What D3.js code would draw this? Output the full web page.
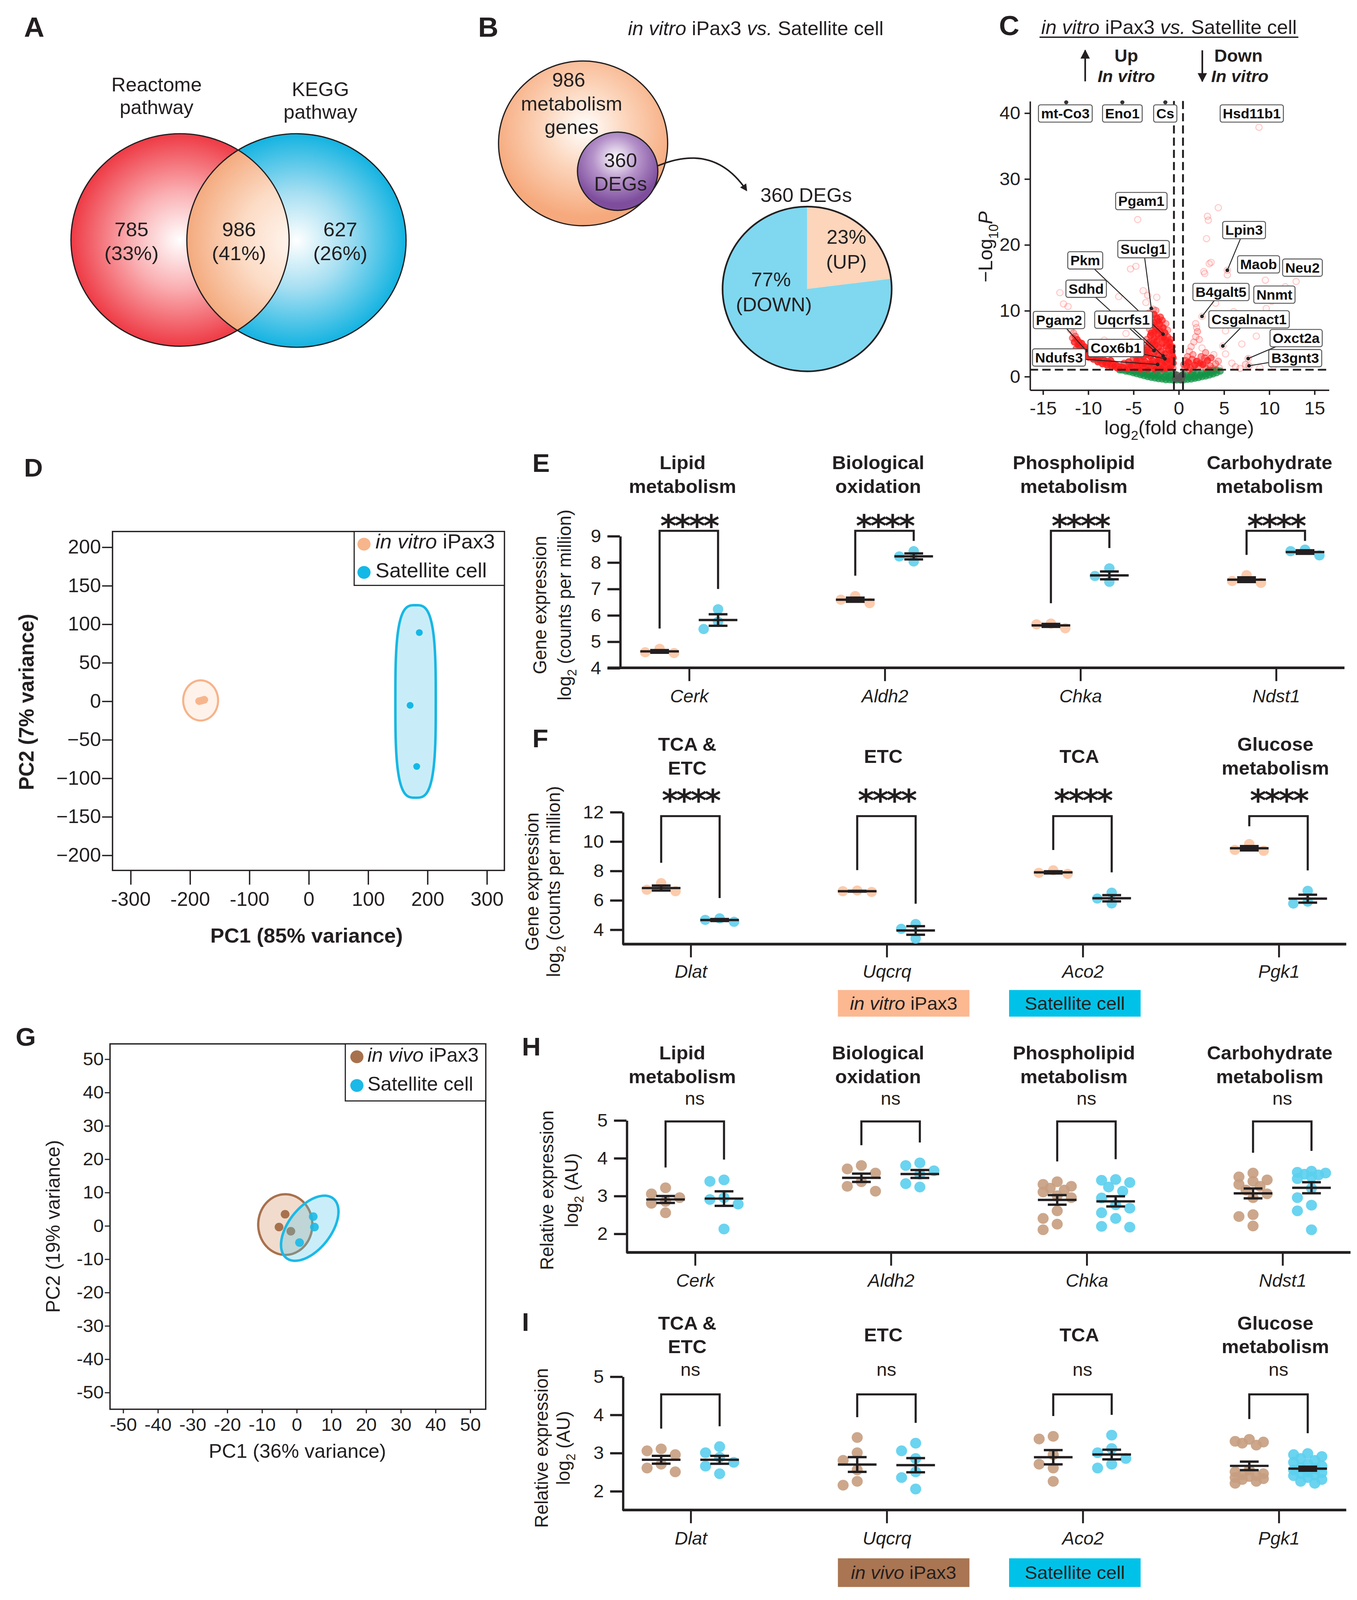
<!DOCTYPE html>
<html>
<head>
<meta charset="utf-8">
<script src="https://cdn.jsdelivr.net/npm/d3@7"></script>
<style>
  html, body { margin: 0; padding: 0; width: 100%; height: 100%; overflow: hidden; background: #fff; }
  svg { display: block; font-family: "Liberation Sans", Arial, Helvetica, sans-serif; }
</style>
</head>
<body>
<script>
// ---------------- data ----------------
// A  Venn
var vennSetNames = [["Reactome", "pathway"], ["KEGG", "pathway"]];
var vennCounts = [785, 986, 627];
var vennPercents = [33, 41, 26];

// B  metabolism genes / DEGs
var metabolismGenes = 986;
var degTotal = 360;
var degLabels = ["UP", "DOWN"];
var degPercents = [23, 77];

// C  volcano  [log2 fold change, -log10 P]
var volcanoSig = [
  [-11.9,7.0],[-11.6,6.6],[-11.4,6.1],[-11.7,5.8],[-11.2,5.6],[-11.0,5.2],[-10.7,5.0],[-10.9,4.6],[-10.4,4.5],[-10.2,4.1],
  [-10.0,3.8],[-9.7,3.9],[-9.6,3.4],[-9.3,3.3],[-9.0,3.0],[-8.8,2.7],[-8.6,3.1],[-8.3,2.5],[-8.0,2.3],[-7.7,2.1],
  [-7.5,2.4],[-7.2,1.9],[-6.9,1.7],[-6.6,1.5],[-6.3,1.4],[-6.0,1.3],[-5.7,1.2],[-10.5,3.2],[-9.9,2.9],[-9.4,2.6],
  [-8.9,2.2],[-8.4,1.9],[-7.9,1.7],[-7.4,1.5],[-6.8,1.3],[-10.9,3.6],[-11.3,4.2],
  [-11.5,5.2],[-11.1,4.8],[-10.6,4.2],[-10.1,3.5],[-9.2,2.9],[-8.7,2.4],[-8.1,2.0],[-7.6,1.8],[-7.1,1.6],[-6.5,1.2],
  [-9.8,3.1],[-10.3,3.7],
  [-5.2,1.3],[-4.8,1.2],[-4.4,1.4],[-4.0,1.2],[-3.6,1.5],[-3.2,1.3],[-2.8,1.6],[-2.4,1.4],[-2.0,1.8],[-1.6,1.5],
  [-1.2,1.9],[-0.8,1.6],[-0.6,1.2],[-5.0,1.8],[-4.5,2.0],[-4.1,1.7],[-3.7,2.2],[-3.3,1.9],[-2.9,2.4],[-2.5,2.1],
  [-2.1,2.6],[-1.7,2.3],[-1.3,2.8],[-0.9,2.5],[-0.7,3.2],
  [-4.3,2.6],[-3.9,2.9],[-3.5,3.3],[-3.1,3.0],[-2.7,3.6],[-2.3,3.2],[-1.9,3.8],[-1.5,3.4],[-1.1,4.0],[-0.8,3.7],
  [-3.8,4.0],[-3.4,4.5],[-3.0,4.2],[-2.6,4.8],[-2.2,4.4],[-1.8,5.0],[-1.4,4.6],[-1.0,5.2],[-0.7,4.5],
  [-3.5,5.6],[-3.1,6.2],[-2.7,5.8],[-2.3,6.4],[-1.9,6.0],[-1.5,6.6],[-1.2,6.0],[-0.9,5.6],
  [-3.2,7.2],[-2.9,7.8],[-2.5,7.3],[-2.1,7.9],[-1.7,7.4],[-1.4,8.0],
  [-3.0,8.8],[-2.7,9.4],[-2.4,8.9],[-2.0,9.0],[-2.8,10.2],[-2.5,10.0],[-3.3,9.6],
  [-5.5,2.2],[-5.0,2.6],[-4.7,3.1],[-4.4,3.6],[-6.0,2.0],
  [-2.2,1.2],[-1.8,1.1],[-1.4,1.2],[-1.0,1.3],[-0.6,2.0],[-0.6,2.8],[-0.7,3.8],[-1.0,4.6],[-1.3,5.4],[-1.6,5.8],
  [-2.0,6.9],[-2.4,5.4],[-2.8,5.0],[-3.2,5.2],[-3.6,4.0],[-4.0,3.3],[-2.6,6.8],[-1.8,8.5],[-2.2,8.4],[-2.6,8.2],
  [-3.0,6.6],[-1.2,7.0],[-3.4,3.8],[-4.6,2.4],[-5.3,1.6],[-4.2,1.1],[-3.4,1.1],[-2.6,1.1],[-1.9,1.3],[-1.5,2.0],
  [-1.1,2.4],[-2.3,2.3],[-3.0,2.0],[-3.8,1.8],
  [-4.5,23.8],[-5.3,16.3],[-4.7,16.7],[-3.9,13.0],[-3.4,12.3],[-6.6,12.1],[-12.7,11.0],[-13.1,12.7],[-5.8,6.5],
  [-5.2,5.3],[-8.2,5.5],[-3.6,11.2],[-2.4,12.0],[-12.2,10.6],
  [0.7,1.2],[0.9,1.6],[1.1,2.1],[1.3,1.3],[1.5,2.6],[1.0,3.0],[1.8,1.7],[2.0,2.3],[2.2,1.4],[2.5,3.0],
  [2.7,1.8],[3.0,1.3],[3.2,2.4],[3.5,1.6],[3.8,1.2],[4.1,1.9],[4.5,1.3],[1.2,3.8],[1.4,4.5],[1.7,5.2],
  [1.9,6.0],[2.1,6.8],[2.0,7.4],[1.9,8.0],[2.6,4.3],[2.3,5.6],[3.0,3.6],[3.6,2.8],[4.4,2.3],[5.2,3.4],
  [5.9,2.0],[6.3,1.45],[7.0,4.9],[7.4,1.8],[5.2,6.9],[8.6,6.1],[6.1,9.8],[4.1,11.1],[9.7,10.3],[2.8,15.9],
  [3.6,17.3],[3.1,20.9],[3.3,23.7],[3.2,24.3],[4.4,25.6],[5.4,15.4],[9.6,14.6],[13.0,14.4],[8.9,37.8],[2.6,9.1],
  [5.4,16.1],[4.9,4.6],[7.7,2.7],[7.8,1.6],[10.5,1.6],[11.5,2.2],[9.0,1.3],[6.8,1.2],[3.4,17.1],[2.9,15.6],
  [0.8,2.4],[1.6,3.3],[2.4,2.0],[0.6,1.8],[1.2,1.0],[2.9,2.8],[3.9,3.3],[10.3,11.4],[11.8,13.6],[8.2,8.9],[5.8,12.5]
];
var volcanoNs = [
  [-6.2,0.95],[-5.8,0.8],[-5.4,0.7],[-5.0,0.55],[-4.6,0.4],[-4.2,0.25],[-3.8,0.1],[-3.4,-0.05],[-3.0,-0.15],[-2.6,-0.25],
  [-2.2,-0.35],[-1.8,-0.4],[-1.4,-0.5],[-1.0,-0.5],[-0.6,-0.55],[-0.2,-0.55],[0.2,-0.55],[0.6,-0.5],[1.0,-0.45],[1.4,-0.4],
  [1.8,-0.3],[2.2,-0.2],[2.6,-0.05],[3.0,0.05],[3.4,0.2],[3.8,0.35],[4.2,0.55],[4.6,0.8],
  [-5.6,0.95],[-5.0,0.9],[-4.4,0.85],[-3.8,0.6],[-3.2,0.5],[-2.6,0.4],[-2.0,0.3],[-1.4,0.2],[-0.9,0.1],[-0.5,0.4],
  [0.5,0.3],[0.9,0.1],[1.4,0.25],[2.0,0.4],[2.6,0.5],[3.2,0.7],[3.8,0.9],[4.2,0.95],
  [-4.8,0.7],[-4.0,0.45],[-3.4,0.3],[-2.8,0.1],[-2.2,0.05],[-1.6,-0.1],[-1.0,-0.2],[1.2,-0.1],[1.8,0.0],[2.4,0.2],
  [3.0,0.35],[3.6,0.55],[-6.5,0.98],[-2.4,0.7],[-1.2,0.6],[1.6,0.7],[3.4,0.9]
];
var volcanoNone = [[-0.3,-0.4],[0.1,-0.2],[0.4,0.1],[-0.2,0.2],[0.3,-0.5]];
var volcanoCapped = [[-12.4,41.6],[-6.2,41.6],[-1.45,41.6]];
var volcanoGenes = ["mt-Co3","Eno1","Cs","Hsd11b1","Pgam1","Lpin3","Suclg1","Pkm","Maob","Neu2",
  "Sdhd","B4galt5","Nnmt","Pgam2","Uqcrfs1","Csgalnact1","Oxct2a","Cox6b1","Ndufs3","B3gnt3"];
var volcanoGeneFC = [-12.4,-6.2,-1.45,8.9,-4.5,5.4,-3.0,-1.7,9.6,13.0,-2.7,2.6,10.3,-10.2,-1.7,4.9,7.7,-1.5,-2.3,7.8];
var volcanoGeneP = [41.6,41.6,41.6,37.8,23.8,16.1,10.3,6.4,14.6,14.4,3.9,9.1,11.4,3.9,3.1,4.6,2.7,2.65,1.8,1.6];

// D  PCA in vitro iPax3 vs satellite
var pcaDGroups = ["in vitro iPax3", "Satellite cell"];
var pcaDPC1 = [[-183.9, -175.6, -180.0], [186.7, 171.2, 182.3]];
var pcaDPC2 = [[-0.2, 1.5, 0.5], [88.8, -5.7, -85.0]];
var pcaDEllipse = [[-181.6, 0.7, 29.4, 26.1, 0], [180.4, -0.6, 34, 125, 0]]; // cx, cy, a, b, angle

// G  PCA in vivo iPax3 vs satellite
var pcaGGroups = ["in vivo iPax3", "Satellite cell"];
var pcaGPC1 = [[-3.25, -5.0, -1.6], [4.85, 5.2, 0.9]];
var pcaGPC2 = [[3.4, -0.45, -1.7], [2.7, -0.45, -5.1]];
var pcaGEllipse = [[-3.2, 0.3, 7.8, 9.1, 0], [3.85, -0.8, 11.2, 6.2, 54]];

// E-I  gene expression
var genesEH = ["Cerk", "Aldh2", "Chka", "Ndst1"];
var titlesEH = [["Lipid", "metabolism"], ["Biological", "oxidation"], ["Phospholipid", "metabolism"], ["Carbohydrate", "metabolism"]];
var genesFI = ["Dlat", "Uqcrq", "Aco2", "Pgk1"];
var titlesFI = [["TCA &", "ETC"], ["ETC"], ["TCA"], ["Glucose", "metabolism"]];
var eInVitro = [[4.59,4.72,4.56],[6.45,6.72,6.58],[5.50,5.68,5.65],[7.22,7.51,7.29]];
var eSatellite = [[6.22,5.47,5.75],[8.03,8.42,8.22],[7.77,7.26,7.48],[8.26,8.48,8.42]];
var fInVitro = [[6.6,7.15,6.7],[6.55,6.65,6.6],[7.78,8.02,7.85],[9.35,9.81,9.41]];
var fSatellite = [[4.52,4.75,4.65],[4.37,3.38,4.04],[6.5,5.77,6.1],[6.63,5.76,5.89]];
var hInVivo = [[3.21,3.05,2.95,2.85,2.80,2.55],[3.80,3.71,3.60,3.37,3.25,3.12],
  [3.37,3.3,3.25,3.2,3.15,3.1,3.0,2.95,2.6,2.4,2.25,2.1],[3.6,3.5,3.42,3.38,3.3,3.25,3.15,3.05,2.95,2.5,2.45,2.2]];
var hSatellite = [[3.42,3.38,2.95,2.9,2.78,2.12],[3.87,3.80,3.66,3.57,3.32,3.23],
  [3.43,3.41,3.35,3.23,3.12,2.94,2.76,2.67,2.55,2.4,2.19,2.17],[3.65,3.62,3.6,3.57,3.55,3.5,3.45,3.2,2.95,2.75,2.6,2.1]];
var iInVivo = [[3.1,3.05,2.95,2.7,2.6,2.5],[3.4,3.0,2.8,2.55,2.25,2.15],[3.43,3.36,2.95,2.7,2.6,2.25],
  [3.35,3.3,3.28,3.25,3.2,2.55,2.5,2.45,2.42,2.4,2.38,2.35,2.32,2.3,2.25,2.2]];
var iSatellite = [[3.16,3.0,2.88,2.75,2.65,2.45],[3.25,3.05,2.85,2.5,2.35,2.05],[3.46,3.11,3.0,2.85,2.7,2.6],
  [2.98,2.95,2.9,2.85,2.8,2.75,2.7,2.65,2.6,2.58,2.55,2.5,2.48,2.45,2.42,2.4,2.35,2.3,2.25,2.2]];
var sigEF = ["****", "****", "****", "****"];
var sigHI = ["ns", "ns", "ns", "ns"];

// ---------------- drawing ----------------
var INK = "#231f20";
// fill whatever viewport we get so nothing is cut at the bottom
var svg = d3.select("body").append("svg")
  .attr("width", "100%").attr("height", "100%")
  .attr("viewBox", "0 0 1300 1573.5")
  .attr("preserveAspectRatio", "none");
svg.append("rect").attr("width", 1300).attr("height", 1573.5).attr("fill", "#fff");
var defs = svg.append("defs");

function txt(g, x, y, s, o) {
  o = o || {};
  var t = g.append("text").attr("x", x).attr("y", y).text(s)
    .attr("font-size", o.size || 18)
    .attr("text-anchor", o.anchor || "middle")
    .attr("fill", o.fill || INK);
  if (o.weight) t.attr("font-weight", o.weight);
  if (o.italic) t.attr("font-style", "italic");
  if (o.family) t.attr("font-family", o.family);
  return t;
}
// parts: [text, {italic, sub}]
function rich(g, x, y, parts, size, o) {
  o = o || {};
  var t = g.append("text").attr("x", x).attr("y", y)
    .attr("font-size", size).attr("text-anchor", o.anchor || "middle").attr("fill", INK);
  if (o.weight) t.attr("font-weight", o.weight);
  if (o.transform) t.attr("transform", o.transform);
  var shifted = false;
  parts.forEach(function (p) {
    var ts = t.append("tspan").text(p[0]);
    var f = p[1] || {};
    if (f.italic) ts.attr("font-style", "italic");
    if (f.sub) { ts.attr("font-size", size * 0.68).attr("dy", size * 0.3); shifted = true; }
    else if (shifted) { ts.attr("dy", -size * 0.3); shifted = false; }
  });
  return t;
}
function radial(id, cx, cy, r, stops) {
  var gr = defs.append("radialGradient").attr("id", id).attr("gradientUnits", "userSpaceOnUse")
    .attr("cx", cx).attr("cy", cy).attr("r", r);
  stops.forEach(function (s) { gr.append("stop").attr("offset", s[0]).attr("stop-color", s[1]); });
}
function styleAxis(sel, fs, sw) {
  sel.attr("font-family", null).attr("font-size", null);
  sel.selectAll("text").attr("font-size", fs).attr("fill", INK);
  sel.selectAll("line").attr("stroke", INK).attr("stroke-width", sw);
  sel.selectAll("path.domain").attr("stroke", INK).attr("stroke-width", sw);
}

// panel letters
[["A", 23, 36.3, 27], ["B", 458, 36.3, 27], ["C", 957, 34.5, 27], ["D", 23, 468.7, 25], ["E", 510, 464, 25],
 ["F", 510, 735, 25], ["G", 15, 1028.2, 25], ["H", 500, 1038, 25], ["I", 500, 1308.7, 25]].forEach(function (l) {
  txt(svg, l[1], l[2], l[0], { size: l[3], weight: "bold", anchor: "start" });
});

// ---------- A: Venn ----------
(function () {
  var g = svg.append("g");
  var cL = { x: 172.5, y: 236, r: 104.5 }, cR = { x: 284, y: 236.5, r: 105 };
  radial("gRed", cL.x, cL.y, cL.r, [[0, "#ffffff"], [0.45, "#fab0b3"], [1, "#ee3a45"]]);
  radial("gBlue", cR.x, cR.y, cR.r, [[0, "#ffffff"], [0.45, "#a6dff2"], [1, "#13b3e1"]]);
  radial("gPeach", cR.x, cR.y, cR.r, [[0, "#fff7f2"], [0.5, "#fcdcc6"], [1, "#f4aa7e"]]);
  defs.append("clipPath").attr("id", "clipL").append("circle").attr("cx", cL.x).attr("cy", cL.y).attr("r", cL.r);
  g.append("circle").attr("cx", cL.x).attr("cy", cL.y).attr("r", cL.r).attr("fill", "url(#gRed)");
  g.append("circle").attr("cx", cR.x).attr("cy", cR.y).attr("r", cR.r).attr("fill", "url(#gBlue)");
  g.append("circle").attr("cx", cR.x).attr("cy", cR.y).attr("r", cR.r).attr("fill", "url(#gPeach)").attr("clip-path", "url(#clipL)");
  [cL, cR].forEach(function (c) {
    g.append("circle").attr("cx", c.x).attr("cy", c.y).attr("r", c.r).attr("fill", "none").attr("stroke", INK).attr("stroke-width", 1.2);
  });
  var nameX = [150, 307], nameY = [90, 94.5];
  vennSetNames.forEach(function (n, i) {
    txt(g, nameX[i], nameY[i], n[0], { size: 19 });
    txt(g, nameX[i], nameY[i] + 22.3, n[1], { size: 19 });
  });
  var cx = [126, 229, 326];
  vennCounts.forEach(function (v, i) {
    txt(g, cx[i], 232.3, String(v), { size: 19.5 });
    txt(g, cx[i], 256, "(" + vennPercents[i] + "%)", { size: 19.5 });
  });
})();

// ---------- B: DEGs ----------
(function () {
  var g = svg.append("g");
  rich(g, 724, 34.4, [["in vitro", { italic: true }], [" iPax3 "], ["vs.", { italic: true }], [" Satellite cell"]], 19);
  radial("gOrange", 560, 126, 88, [[0, "#ffffff"], [0.45, "#fcd6bd"], [1, "#f6a97c"]]);
  radial("gPurple", 590, 156, 44, [[0, "#ffffff"], [0.5, "#b592c9"], [1, "#7e4e9d"]]);
  g.append("circle").attr("cx", 558.6).attr("cy", 141).attr("r", 81).attr("fill", "url(#gOrange)").attr("stroke", INK).attr("stroke-width", 1.2);
  g.append("circle").attr("cx", 591.7).attr("cy", 168.4).attr("r", 38.5).attr("fill", "url(#gPurple)").attr("stroke", INK).attr("stroke-width", 1.2);
  txt(g, 544.8, 85.4, String(metabolismGenes), { size: 19 });
  txt(g, 547.6, 108.8, "metabolism", { size: 19 });
  txt(g, 547.6, 131.6, "genes", { size: 19 });
  txt(g, 594.5, 164.4, String(degTotal), { size: 19 });
  txt(g, 594.5, 187.5, "DEGs", { size: 19 });

  defs.append("marker").attr("id", "headB").attr("viewBox", "0 0 10 10").attr("refX", 8).attr("refY", 5)
    .attr("markerWidth", 7).attr("markerHeight", 7).attr("markerUnits", "userSpaceOnUse").attr("orient", "auto")
    .append("path").attr("d", "M0,0 L10,5 L0,10 Z").attr("fill", INK);
  g.append("path").attr("d", "M630.3,163 Q684,140 715,187").attr("fill", "none").attr("stroke", INK)
    .attr("stroke-width", 1.5).attr("marker-end", "url(#headB)");

  txt(g, 772.3, 198.8, degTotal + " DEGs", { size: 19 });
  var pie = d3.pie().sort(null)(degPercents);
  var arc = d3.arc().innerRadius(0).outerRadius(81);
  var pg = g.append("g").attr("transform", "translate(773.2,284.2)");
  var pieColors = ["#fcd5bb", "#7fd8f0"];
  pg.selectAll("path").data(pie).enter().append("path").attr("d", arc)
    .attr("fill", function (d, i) { return pieColors[i]; });
  pg.append("circle").attr("r", 81).attr("fill", "none").attr("stroke", INK).attr("stroke-width", 1.6);
  var labPos = [[37.7, -44.3], [-34.5, -2.7]];
  degPercents.forEach(function (p, i) {
    txt(pg, labPos[i][0], labPos[i][1], p + "%", { size: 19 });
    txt(pg, labPos[i][0] + (i ? 2.7 : 0), labPos[i][1] + 24.5, "(" + degLabels[i] + ")", { size: 19 });
  });
})();

// ---------- C: volcano ----------
(function () {
  var g = svg.append("g");
  var x = d3.scaleLinear().domain([-16.43, 16.6]).range([986.5, 1272.9]);
  var y = d3.scaleLinear().domain([-2.04, 41.8]).range([383.3, 99.3]);

  rich(g, 1119.9, 33.6, [["in vitro", { italic: true }], [" iPax3  "], ["vs.", { italic: true }], [" Satellite cell"]], 19);
  g.append("line").attr("x1", 995.9).attr("x2", 1243.8).attr("y1", 36.6).attr("y2", 36.6).attr("stroke", INK).attr("stroke-width", 1.3);
  txt(g, 1079, 60.7, "Up", { size: 17, weight: "bold" });
  txt(g, 1079, 80.5, "In vitro", { size: 16.5, weight: "bold", italic: true });
  txt(g, 1186.4, 60.7, "Down", { size: 17, weight: "bold" });
  txt(g, 1187.8, 80.5, "In vitro", { size: 16.5, weight: "bold", italic: true });
  defs.append("marker").attr("id", "headC").attr("viewBox", "0 0 10 10").attr("refX", 9).attr("refY", 5)
    .attr("markerWidth", 9).attr("markerHeight", 9).attr("markerUnits", "userSpaceOnUse").attr("orient", "auto")
    .append("path").attr("d", "M0,0 L10,5 L0,10 Z").attr("fill", INK);
  g.append("line").attr("x1", 1039.6).attr("x2", 1039.6).attr("y1", 80).attr("y2", 49.5).attr("stroke", INK).attr("stroke-width", 1.6).attr("marker-end", "url(#headC)");
  g.append("line").attr("x1", 1151.8).attr("x2", 1151.8).attr("y1", 49.5).attr("y2", 80).attr("stroke", INK).attr("stroke-width", 1.6).attr("marker-end", "url(#headC)");

  // green / grey / red points (red opacity grows with local crowding to mimic overplotting)
  g.append("g").selectAll("circle").data(volcanoNs).enter().append("circle")
    .attr("cx", function (d) { return x(d[0]); }).attr("cy", function (d) { return y(d[1]); })
    .attr("r", 3.6).attr("fill", "#139447").attr("fill-opacity", 0.75);
  g.append("g").selectAll("circle").data(volcanoNone).enter().append("circle")
    .attr("cx", function (d) { return x(d[0]); }).attr("cy", function (d) { return y(d[1]); })
    .attr("r", 3.6).attr("fill", "#555").attr("fill-opacity", 0.85);
  var crowd = volcanoSig.map(function (d) {
    var px = x(d[0]), py = y(d[1]);
    return volcanoSig.filter(function (e) {
      var dx = x(e[0]) - px, dy = y(e[1]) - py;
      return dx * dx + dy * dy < 64;
    }).length - 1;
  });
  g.append("g").selectAll("circle").data(volcanoSig).enter().append("circle")
    .attr("cx", function (d) { return x(d[0]); }).attr("cy", function (d) { return y(d[1]); })
    .attr("r", 3.1).attr("fill", "#ff1a1a")
    .attr("fill-opacity", function (d, i) { return Math.min(0.85, 0.03 + 0.012 * crowd[i] * crowd[i]); })
    .attr("stroke", "#ff2a2a").attr("stroke-width", 0.9)
    .attr("stroke-opacity", function (d, i) { return Math.min(0.9, 0.25 + 0.008 * crowd[i] * crowd[i]); });
  g.append("g").selectAll("circle").data(volcanoCapped).enter().append("circle")
    .attr("cx", function (d) { return x(d[0]); }).attr("cy", function (d) { return y(d[1]); })
    .attr("r", 2).attr("fill", "#333");

  // cut-off lines
  [-0.5, 0.5].forEach(function (v) {
    g.append("line").attr("x1", x(v)).attr("x2", x(v)).attr("y1", 99.3).attr("y2", 383.3)
      .attr("stroke", INK).attr("stroke-width", 1.8).attr("stroke-dasharray", "8,4");
  });
  g.append("line").attr("x1", 986.5).attr("x2", 1272.9).attr("y1", y(1)).attr("y2", y(1))
    .attr("stroke", INK).attr("stroke-width", 1.8).attr("stroke-dasharray", "8,4");

  var ax = g.append("g").attr("transform", "translate(986.5,0)")
    .call(d3.axisLeft(y).tickValues([0, 10, 20, 30, 40]).tickSize(5).tickSizeOuter(0).tickPadding(4));
  styleAxis(ax, 18, 1.4);
  var bx = g.append("g").attr("transform", "translate(0,383.3)")
    .call(d3.axisBottom(x).tickValues([-15, -10, -5, 0, 5, 10, 15]).tickSize(5).tickSizeOuter(0).tickPadding(6.5)
      .tickFormat(function (d) { return String(d); }));
  styleAxis(bx, 18, 1.4);
  rich(g, 0, 0, [["\u2212Log"], ["10", { sub: true }], ["P", { italic: true }]], 19, { transform: "translate(950.5,242.7) rotate(-90)" });
  rich(g, 1129.7, 427, [["log"], ["2", { sub: true }], ["(fold change)"]], 19);

  // labels
  var labelAt = {
    "mt-Co3": [-12.5, 39.9], "Eno1": [-6.2, 39.9], "Cs": [-1.46, 39.9], "Hsd11b1": [8.1, 39.9], "Pgam1": [-4.1, 26.6],
    "Lpin3": [7.25, 22.2], "Suclg1": [-3.86, 19.3], "Pkm": [-10.3, 17.6], "Maob": [8.85, 17.0], "Neu2": [13.7, 16.5],
    "Sdhd": [-10.2, 13.3], "B4galt5": [4.7, 12.8], "Nnmt": [10.6, 12.4], "Pgam2": [-13.2, 8.55], "Uqcrfs1": [-6.07, 8.6],
    "Csgalnact1": [7.8, 8.65], "Oxct2a": [13.0, 5.8], "Cox6b1": [-6.9, 4.3], "Ndufs3": [-13.2, 2.86], "B3gnt3": [12.9, 2.76]
  };
  var lg = g.append("g");
  var segs = lg.append("g"), boxes = lg.append("g");
  volcanoGenes.forEach(function (gene, i) {
    var lx = x(labelAt[gene][0]), ly = y(labelAt[gene][1]);
    var px = x(volcanoGeneFC[i]), py = y(volcanoGeneP[i]);
    var b = boxes.append("g");
    var t = txt(b, lx, ly + 4.8, gene, { size: 13.5, weight: "bold", fill: "#111" });
    var w = t.node().getComputedTextLength() + 5, h = 17;
    b.insert("rect", "text").attr("x", lx - w / 2).attr("y", ly - h / 2).attr("width", w).attr("height", h)
      .attr("rx", 2).attr("fill", "#fff").attr("stroke", "#555").attr("stroke-width", 0.9);
    var dx = px - lx, dy = py - ly;
    var outX = Math.max(0, Math.abs(dx) - w / 2), outY = Math.max(0, Math.abs(dy) - h / 2);
    if (Math.sqrt(outX * outX + outY * outY) > 10) {
      var tt = Math.min(Math.abs(dx) > 0 ? (w / 2) / Math.abs(dx) : 99, Math.abs(dy) > 0 ? (h / 2) / Math.abs(dy) : 99);
      segs.append("line").attr("x1", lx + dx * tt).attr("y1", ly + dy * tt).attr("x2", px).attr("y2", py)
        .attr("stroke", "#222").attr("stroke-width", 0.9);
      segs.append("circle").attr("cx", px).attr("cy", py).attr("r", 1.8).attr("fill", "#222");
    }
  });
})();

// ---------- PCA helper ----------
function ellipsePath(e, xs, ys, n) {
  var th = e[4] * Math.PI / 180, pts = [];
  for (var k = 0; k < 144; k++) {
    var t = k / 144 * 2 * Math.PI, c = Math.cos(t), s = Math.sin(t);
    var u = e[2] * Math.sign(c) * Math.pow(Math.abs(c), 2 / n);
    var v = e[3] * Math.sign(s) * Math.pow(Math.abs(s), 2 / n);
    pts.push([xs(e[0] + u * Math.cos(th) - v * Math.sin(th)), ys(e[1] + u * Math.sin(th) + v * Math.cos(th))]);
  }
  return d3.line().curve(d3.curveLinearClosed)(pts);
}

// ---------- D: PCA ----------
(function () {
  var g = svg.append("g");
  var x = d3.scaleLinear().domain([-330, 330]).range([107.8, 483.2]);
  var y = d3.scaleLinear().domain([-220, 220]).range([856, 522.7]);
  var fills = ["#fef2ea", "#c9edf8"], strokes = ["#f7b38a", "#17b7e4"], dots = ["#f7b58c", "#14b8e6"];
  var shape = [2, 3.2];
  pcaDEllipse.forEach(function (e, i) {
    g.append("path").attr("d", ellipsePath(e, x, y, shape[i])).attr("fill", fills[i])
      .attr("stroke", strokes[i]).attr("stroke-width", i ? 2.4 : 2);
  });
  pcaDPC1.forEach(function (xs, i) {
    g.selectAll(null).data(xs).enter().append("circle")
      .attr("cx", function (d) { return x(d); }).attr("cy", function (d, j) { return y(pcaDPC2[i][j]); })
      .attr("r", i ? 3.3 : 3.8).attr("fill", dots[i]);
  });
  g.append("rect").attr("x", 107.8).attr("y", 522.7).attr("width", 375.4).attr("height", 333.3)
    .attr("fill", "none").attr("stroke", INK).attr("stroke-width", 1.3);
  var ay = g.append("g").attr("transform", "translate(107.8,0)")
    .call(d3.axisLeft(y).tickValues(d3.range(-200, 201, 50)).tickSize(10).tickSizeOuter(0).tickPadding(1).tickFormat(d3.format("d")));
  ay.select(".domain").remove();
  styleAxis(ay, 19, 1.3);
  var axb = g.append("g").attr("transform", "translate(0,856)")
    .call(d3.axisBottom(x).tickValues(d3.range(-300, 301, 100)).tickSize(14).tickSizeOuter(0).tickPadding(7.4)
      .tickFormat(function (d) { return String(d); }));
  axb.select(".domain").remove();
  styleAxis(axb, 19, 1.3);
  txt(g, 293.7, 927, "PC1 (85% variance)", { size: 20, weight: "bold" });
  txt(g, 0, 0, "PC2 (7% variance)", { size: 20, weight: "bold" }).attr("transform", "translate(32.1,690.4) rotate(-90)");
  g.append("rect").attr("x", 339.3).attr("y", 522.7).attr("width", 143.9).attr("height", 53)
    .attr("fill", "#fff").attr("stroke", INK).attr("stroke-width", 1.1);
  var ly = [[535.2, 539.4], [562.9, 567.7]];
  pcaDGroups.forEach(function (name, i) {
    g.append("circle").attr("cx", 348.7).attr("cy", ly[i][0]).attr("r", 6.3).attr("fill", dots[i]);
    var parts = i ? [[name]] : [["in vitro", { italic: true }], [" iPax3"]];
    rich(g, 359.7, ly[i][1], parts, 20, { anchor: "start" });
  });
})();

// ---------- G: PCA ----------
(function () {
  var g = svg.append("g");
  var x = d3.scaleLinear().domain([-53.7, 54.55]).range([105.4, 465.3]);
  var y = d3.scaleLinear().domain([-55.1, 54.5]).range([1385.9, 1026.6]);
  var dots = ["#a8714d", "#1bb9e7"];
  g.append("path").attr("d", ellipsePath(pcaGEllipse[0], x, y, 2)).attr("fill", "#f1dbcd")
    .attr("stroke", "#a8714d").attr("stroke-width", 2.2);
  g.selectAll(null).data(pcaGPC1[0]).enter().append("circle")
    .attr("cx", function (d) { return x(d); }).attr("cy", function (d, j) { return y(pcaGPC2[0][j]); })
    .attr("r", 4.2).attr("fill", dots[0]);
  g.append("path").attr("d", ellipsePath(pcaGEllipse[1], x, y, 2)).attr("fill", "#4cc8ec").attr("fill-opacity", 0.3)
    .attr("stroke", "#1bb9e7").attr("stroke-width", 2.4);
  g.selectAll(null).data(pcaGPC1[1]).enter().append("circle")
    .attr("cx", function (d) { return x(d); }).attr("cy", function (d, j) { return y(pcaGPC2[1][j]); })
    .attr("r", 4.2).attr("fill", dots[1]).attr("fill-opacity", 0.9);
  g.append("rect").attr("x", 105.4).attr("y", 1026.6).attr("width", 359.9).attr("height", 359.3)
    .attr("fill", "none").attr("stroke", INK).attr("stroke-width", 1.3);
  var ay = g.append("g").attr("transform", "translate(105.4,0)")
    .call(d3.axisLeft(y).tickValues(d3.range(-50, 51, 10)).tickSize(5).tickSizeOuter(0).tickPadding(1)
      .tickFormat(function (d) { return String(d); }));
  ay.select(".domain").remove();
  styleAxis(ay, 18, 1.1);
  var axb = g.append("g").attr("transform", "translate(0,1385.9)")
    .call(d3.axisBottom(x).tickValues(d3.range(-50, 51, 10)).tickSize(4).tickSizeOuter(0).tickPadding(4.4)
      .tickFormat(function (d) { return String(d); }));
  axb.select(".domain").remove();
  styleAxis(axb, 18, 1.1);
  txt(g, 284.9, 1433.8, "PC1 (36% variance)", { size: 19 });
  txt(g, 0, 0, "PC2 (19% variance)", { size: 19 }).attr("transform", "translate(57.2,1206.1) rotate(-90)");
  g.append("rect").attr("x", 330.8).attr("y", 1026.6).attr("width", 134.5).attr("height", 56.1)
    .attr("fill", "#fff").attr("stroke", INK).attr("stroke-width", 1.1);
  var ly = [[1039.3, 1044], [1067.5, 1072.5]];
  pcaGGroups.forEach(function (name, i) {
    g.append("circle").attr("cx", 341.9).attr("cy", ly[i][0]).attr("r", 6.3).attr("fill", dots[i]);
    var parts = i ? [[name]] : [["in vivo", { italic: true }], [" iPax3"]];
    rich(g, 352, ly[i][1], parts, 19, { anchor: "start" });
  });
})();

// ---------- E, F, H, I: dot plots with mean +/- SEM ----------
function swarm(vals, y, r, step) {
  var pts = vals.map(function (v) { return { v: v, py: y(v) }; }).sort(function (a, b) { return a.py - b.py; });
  var cands = [0, -1, 1, -0.5, 0.5];
  var placed = [];
  pts.forEach(function (p) {
    var best = 0, bestScore = -1;
    for (var k = 0; k < cands.length; k++) {
      var dx = cands[k] * step;
      var minD = placed.reduce(function (m, q) {
        var ddx = (q.dx - dx) / step * 2 * r, ddy = q.py - p.py;
        return Math.min(m, Math.sqrt(ddx * ddx + ddy * ddy));
      }, 1e9);
      if (minD >= 2 * r * 0.95) { best = dx; bestScore = 1e9; break; }
      if (minD > bestScore) { bestScore = minD; best = dx; }
    }
    p.dx = best;
    placed.push(p);
  });
  return pts;
}

function dotPanel(c) {
  var g = svg.append("g");
  var y = d3.scaleLinear().domain(c.yDomain).range(c.yRange);
  var x = d3.scalePoint().domain(c.genes).range(c.xRange);
  var y0 = c.yRange[0];
  var off = 28, r = c.r || 5;

  // titles
  c.genes.forEach(function (gene, i) {
    var lines = c.titles[i];
    var cx = x(gene) + c.titleShift;
    if (lines.length === 2) {
      txt(g, cx, c.titleBase, lines[0], { size: 18.5, weight: "bold" });
      txt(g, cx, c.titleBase + 23.3, lines[1], { size: 18.5, weight: "bold" });
    } else {
      txt(g, cx, c.titleBase + 11.6, lines[0], { size: 18.5, weight: "bold" });
    }
  });

  // axes
  var ay = g.append("g").attr("transform", "translate(" + c.axisX + ",0)")
    .call(d3.axisLeft(y).tickValues(c.ticks).tickSize(12).tickSizeOuter(0).tickPadding(6).tickFormat(d3.format("d")));
  styleAxis(ay, 18, 2.2);
  g.append("line").attr("x1", c.xStart).attr("x2", c.xEnd).attr("y1", y0).attr("y2", y0)
    .attr("stroke", INK).attr("stroke-width", 2.6);
  var gfs = 17.5;
  var axb = g.append("g").attr("transform", "translate(0," + y0 + ")")
    .call(d3.axisBottom(x).tickSize(13).tickSizeOuter(0).tickPadding(c.geneBase - y0 - 13 - 0.71 * gfs));
  axb.select(".domain").remove();
  styleAxis(axb, gfs, 1.8);
  axb.selectAll("text").attr("font-style", "italic");

  // groups
  c.genes.forEach(function (gene, i) {
    var groups = [c.a[i], c.b[i]];
    var gx = [x(gene) - off, x(gene) + off];
    groups.forEach(function (vals, k) {
      var pts = swarm(vals, y, r, c.step);
      g.append("g").selectAll("circle").data(pts).enter().append("circle")
        .attr("cx", function (d) { return gx[k] + d.dx; }).attr("cy", function (d) { return d.py; })
        .attr("r", r).attr("fill", c.colors[k]).attr("fill-opacity", 0.9);
      var m = d3.mean(vals), sem = d3.deviation(vals) / Math.sqrt(vals.length);
      var eg = g.append("g").attr("stroke", INK).attr("stroke-width", 2.3);
      eg.append("line").attr("x1", gx[k] - 18.5).attr("x2", gx[k] + 18.5).attr("y1", y(m)).attr("y2", y(m));
      eg.append("line").attr("x1", gx[k]).attr("x2", gx[k]).attr("y1", y(m - sem)).attr("y2", y(m + sem));
      eg.append("line").attr("x1", gx[k] - 9).attr("x2", gx[k] + 9).attr("y1", y(m + sem)).attr("y2", y(m + sem));
      eg.append("line").attr("x1", gx[k] - 9).attr("x2", gx[k] + 9).attr("y1", y(m - sem)).attr("y2", y(m - sem));
    });
    // bracket
    var top = c.bracketTop;
    var legs = groups.map(function (vals) { return Math.max(y(d3.max(vals)) - 20, top + 10); });
    g.append("path").attr("d", "M" + gx[0] + "," + legs[0] + "V" + top + "H" + gx[1] + "V" + legs[1])
      .attr("fill", "none").attr("stroke", INK).attr("stroke-width", 2);
    var s = c.sig[i];
    if (s === "ns") txt(g, x(gene), c.sigY, s, { size: 18 });
    else txt(g, x(gene), c.sigY + 9, s, { size: 30, weight: "bold", family: "DejaVu Sans" }).attr("letter-spacing", -2);
  });

  // y title
  rich(g, 0, 0, [[c.yTitle[0]]], 18, { transform: "translate(" + (c.yTitleX[0] + 6.3) + "," + c.yTitleCy + ") rotate(-90)" });
  rich(g, 0, 0, [["log"], ["2", { sub: true }], [" " + c.yTitle[1]]], 18,
    { transform: "translate(" + (c.yTitleX[1] + 6.3) + "," + c.yTitleCy + ") rotate(-90)" });

  // legend boxes under the panel
  if (c.legend) {
    var L = c.legend;
    [[L.x[0], L.fill[0], L.parts[0]], [L.x[1], L.fill[1], L.parts[1]]].forEach(function (b) {
      g.append("rect").attr("x", b[0]).attr("y", L.y).attr("width", 126).attr("height", L.h).attr("fill", b[1]);
      rich(g, b[0] + 63, L.y + L.h / 2 + 6.3, b[2], 18);
    });
  }
}

dotPanel({ genes: genesEH, titles: titlesEH, a: eInVitro, b: eSatellite, sig: sigEF,
  colors: ["#fcc5a3", "#5fcfec"], yDomain: [4, 9], yRange: [656.8, 527], ticks: [4, 5, 6, 7, 8, 9],
  axisX: 593.9, xRange: [659.9, 1222.2], xStart: 582, xEnd: 1288, titleBase: 461.5, titleShift: -6,
  sigY: 519, bracketTop: 522, geneBase: 690.7, step: 13.8,
  yTitle: ["Gene expression", "(counts per million)"], yTitleX: [516.9, 540.5], yTitleCy: 595 });

dotPanel({ genes: genesFI, titles: titlesFI, a: fInVitro, b: fSatellite, sig: sigEF,
  colors: ["#fcc5a3", "#5fcfec"], yDomain: [3, 12], yRange: [928.5, 798.4], ticks: [4, 6, 8, 10, 12],
  axisX: 596.5, xRange: [661.4, 1224.8], xStart: 596.5, xEnd: 1289.7, titleBase: 738.5, titleShift: -3,
  sigY: 789, bracketTop: 802.6, geneBase: 961.5, step: 13.8,
  yTitle: ["Gene expression", "(counts per million)"], yTitleX: [509.6, 530], yTitleCy: 867,
  legend: { x: [802.7, 966.7], y: 973.6, h: 26.2, fill: ["#fbb891", "#00c2e8"],
    parts: [[["in vitro", { italic: true }], [" iPax3"]], [["Satellite cell"]]] } });

dotPanel({ genes: genesEH, titles: titlesEH, a: hInVivo, b: hSatellite, sig: sigHI,
  colors: ["#c79d7f", "#5bcfee"], yDomain: [1.5, 5], yRange: [1231.7, 1101.6], ticks: [2, 3, 4, 5],
  axisX: 600.2, xRange: [665.6, 1228.4], xStart: 600.2, xEnd: 1293.8, titleBase: 1042, titleShift: -12,
  sigY: 1086.5, bracketTop: 1102.9, geneBase: 1265.3, step: 13.5, r: 5.3,
  yTitle: ["Relative expression", "(AU)"], yTitleX: [523.8, 547.2], yTitleCy: 1170.5 });

dotPanel({ genes: genesFI, titles: titlesFI, a: iInVivo, b: iSatellite, sig: sigHI,
  colors: ["#c79d7f", "#5bcfee"], yDomain: [1.5, 5], yRange: [1485, 1353.6], ticks: [2, 3, 4, 5],
  axisX: 596.5, xRange: [661.4, 1224.8], xStart: 596.5, xEnd: 1289.7, titleBase: 1307.5, titleShift: -3,
  sigY: 1353, bracketTop: 1371.3, geneBase: 1518.9, step: 13.5, r: 5.3,
  yTitle: ["Relative expression", "(AU)"], yTitleX: [518.7, 539.4], yTitleCy: 1424,
  legend: { x: [802.7, 966.7], y: 1532.5, h: 28.2, fill: ["#a97552", "#00c2e8"],
    parts: [[["in vivo", { italic: true }], [" iPax3"]], [["Satellite cell"]]] } });
</script>
</body>
</html>
